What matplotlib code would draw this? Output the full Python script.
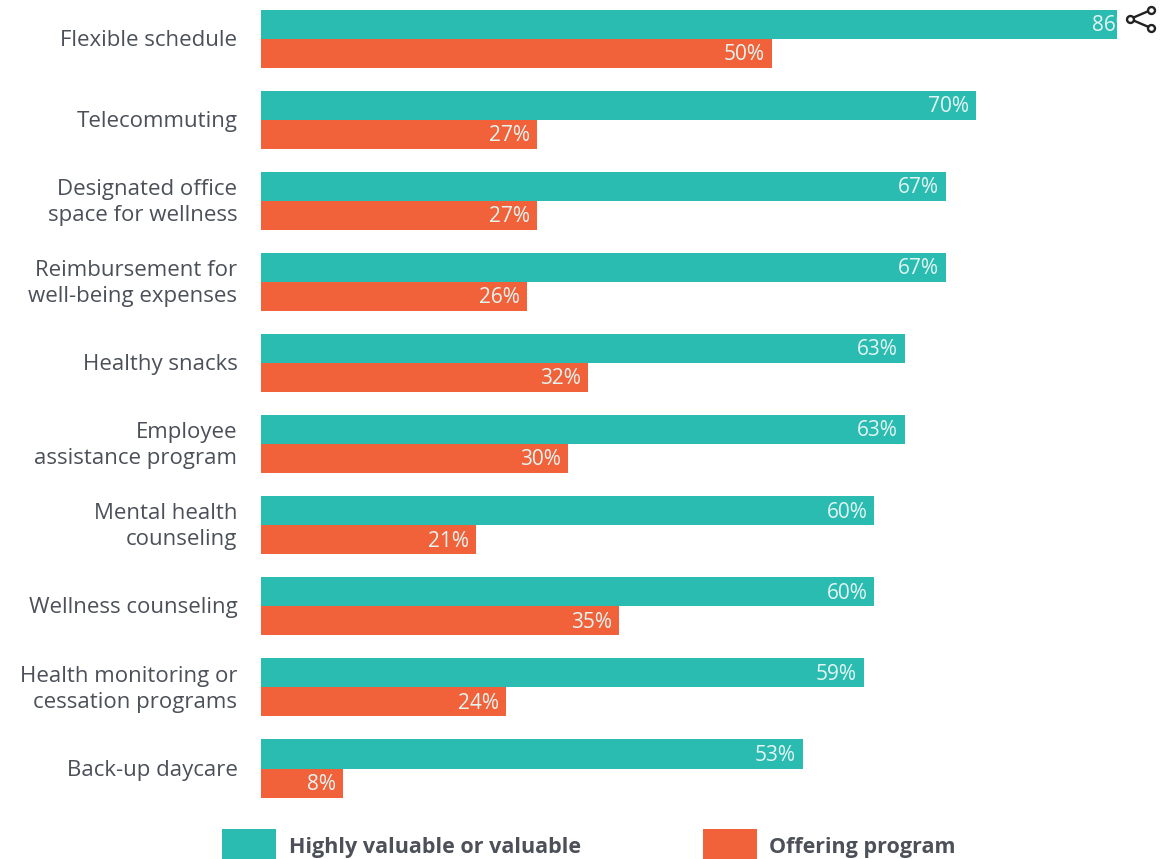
import matplotlib
matplotlib.use("Agg")
import matplotlib.pyplot as plt
from matplotlib.lines import Line2D
from matplotlib.patches import Rectangle
import numpy as np

categories = [
    "Flexible schedule",
    "Telecommuting",
    "Designated office\nspace for wellness",
    "Reimbursement for\nwell-being expenses",
    "Healthy snacks",
    "Employee\nassistance program",
    "Mental health\ncounseling",
    "Wellness counseling",
    "Health monitoring or\ncessation programs",
    "Back-up daycare",
]
valued = [86, 70, 67, 67, 63, 63, 60, 60, 59, 53]
offering = [50, 27, 27, 26, 32, 30, 21, 35, 24, 8]
legend_labels = ["Highly valuable or valuable", "Offering program"]

TEAL = "#2abcb1"
ORANGE = "#f1623a"
GREY = "#4b5059"
W, H = 1163, 859

plt.rcParams["font.family"] = ["Open Sans", "DejaVu Sans"]


def fx(x):
    return x / W


def fy(y):
    return 1 - y / H


fig = plt.figure(figsize=(W / 100, H / 100), dpi=100)

# axes stop short of the longest bar, so the top bar and its label get cut off
left, right = 261, 1117
ax = fig.add_axes([fx(left), 0, (right - left) / W, 1])
ax.set_xlim(0, (right - left) / 10.22)
row = 81.1
ax.set_ylim((H - 38.6) / row, -38.6 / row)
ax.axis("off")

y = np.arange(len(categories))
bar_h = 29 / row
bars1 = ax.barh(y, valued, height=-bar_h, align="edge", color=TEAL)
bars2 = ax.barh(y, offering, height=bar_h, align="edge", color=ORANGE)

for bars, vals in ((bars1, valued), (bars2, offering)):
    for bar, v in zip(bars, vals):
        ax.annotate(
            f"{v}%",
            (v, bar.get_y() + bar.get_height() / 2),
            xytext=(-5, -1),
            textcoords="offset points",
            ha="right",
            va="center",
            color="#e4f5f2",
            fontsize=15,
            annotation_clip=False,
            clip_on=True,
        )

# category names sit right-aligned against the bars
for i, name in enumerate(categories):
    ax.annotate(
        name,
        (0, i),
        xytext=(-17, -1.2),
        textcoords="offset points",
        ha="right",
        va="center",
        color=GREY,
        fontsize=16,
        linespacing=1.31,
        annotation_clip=False,
    )

# legend swatches run off the bottom edge
for x0, x1, col, tx, label in (
    (222, 276, TEAL, 289, legend_labels[0]),
    (703, 757, ORANGE, 769, legend_labels[1]),
):
    fig.add_artist(
        Rectangle((fx(x0), 0), (x1 - x0) / W, (H - 829) / H, transform=fig.transFigure, color=col, lw=0)
    )
    fig.text(fx(tx), fy(847), label, color=GREY, fontsize=15.5, fontweight="bold", va="center")

# share icon
icon_x = [1151, 1130, 1151]
icon_y = [10, 19, 28]
fig.add_artist(
    Line2D(
        [fx(v) for v in icon_x],
        [fy(v) for v in icon_y],
        transform=fig.transFigure,
        color="#222222",
        lw=1.7,
        marker="o",
        ms=5,
        mfc="white",
        mew=1.7,
    )
)

fig.savefig("out.png", dpi=100)
